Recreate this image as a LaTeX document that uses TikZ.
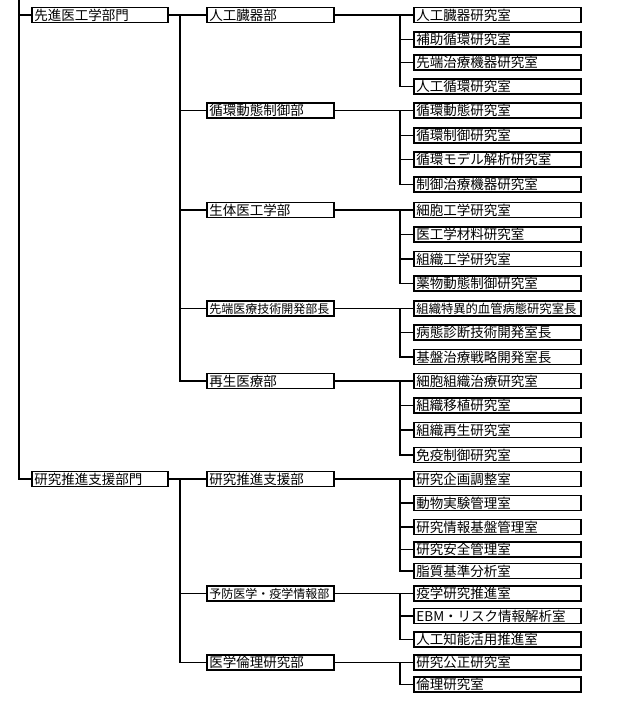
\documentclass[tikz,border=0pt]{standalone}
\usepackage{fontspec}
\setmainfont{Noto Sans CJK JP}
\newcommand\narrowtext[2]{{\fontsize{#1}{14}\selectfont #2}}

\begin{document}
\begin{tikzpicture}[x=1pt, y=-1pt,
    box/.style={draw, rectangle, line width=1.9pt, anchor=west,
        minimum height=15pt, inner xsep=2.5pt, inner ysep=0pt,
        text height=12pt, text depth=1.8pt, align=left,
        font=\fontsize{13.5}{15}\selectfont},
    bumon/.style={box, text width=131pt},
    bu/.style={box, text width=122pt},
    shitsu/.style={box, text width=162pt},
    link/.style={line width=1.9pt}]
    \useasboundingbox (0,0) rectangle (622,701);
    \coordinate (top) at (19,0);
    \coordinate (colb) at (180,0);
    \coordinate (colc) at (400,0);
    \node[bumon] (d1) at (31,15) {先進医工学部門};
    \node[bumon] (d2) at (31,479) {研究推進支援部門};
    \foreach \y/\n/\t in {15/b1/人工臓器部, 110.5/b2/循環動態制御部,
            210/b3/生体医工学部, 308.5/b4/{\narrowtext{12}{先端医療技術開発部長}},
            381/b5/再生医療部, 479/b6/研究推進支援部,
            593.5/b7/{\narrowtext{12}{予防医学・疫学情報部}}, 662.5/b8/医学倫理研究部}
        \node[bu] (\n) at (206,\y) {\t};
    \foreach \y/\n/\t in {15/s11/人工臓器研究室, 39.5/s12/補助循環研究室,
            62.5/s13/先端治療機器研究室, 86.5/s14/人工循環研究室,
            110.5/s21/循環動態研究室, 135.5/s22/循環制御研究室,
            159.5/s23/循環モデル解析研究室, 184.5/s24/制御治療機器研究室,
            210/s31/細胞工学研究室, 234.5/s32/医工学材料研究室,
            259/s33/組織工学研究室, 283.5/s34/薬物動態制御研究室,
            308.5/s41/{\narrowtext{12.3}{組織特異的血管病態研究室長}},
            332.5/s42/病態診断技術開発室長, 357/s43/基盤治療戦略開発室長,
            381/s51/細胞組織治療研究室, 405.5/s52/組織移植研究室,
            430/s53/組織再生研究室, 455/s54/免疫制御研究室,
            479/s61/研究企画調整室, 503/s62/動物実験管理室,
            527/s63/研究情報基盤管理室, 549.5/s64/研究安全管理室,
            571/s65/脂質基準分析室, 593.5/s71/疫学研究推進室,
            616/s72/EBM・リスク情報解析室, 639.5/s73/人工知能活用推進室,
            662.5/s81/研究公正研究室, 684.5/s82/倫理研究室}
        \node[shitsu] (\n) at (413,\y) {\t};
    \draw[link] (top) |- (d2.west) (d1.west) -- (d1.west -| top);
    \foreach \d/\b in {d1/b1, d1/b2, d1/b3, d1/b4, d1/b5, d2/b6, d2/b7, d2/b8}
        \draw[link] (\d.east) -| (colb |- \b.west) -- (\b.west);
    \foreach \b/\s in {b1/{s11,s12,s13,s14}, b2/{s21,s22,s23,s24},
            b3/{s31,s32,s33,s34}, b4/{s41,s42,s43}, b5/{s51,s52,s53,s54},
            b6/{s61,s62,s63,s64,s65}, b7/{s71,s72,s73}, b8/{s81,s82}}
        \foreach \r in \s
            \draw[link] (\b.east) -| (colc |- \r.west) -- (\r.west);
\end{tikzpicture}
\end{document}
